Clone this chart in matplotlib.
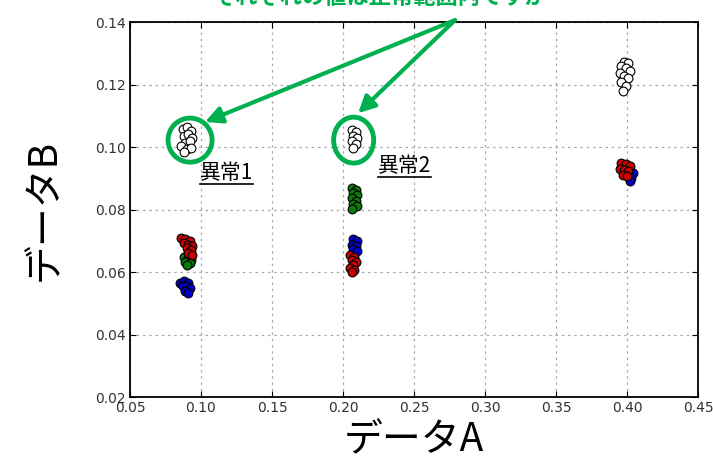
import matplotlib
matplotlib.use("Agg")
import matplotlib.pyplot as plt
from matplotlib.patches import Ellipse
from matplotlib.lines import Line2D

plt.rcParams["font.family"] = ["DejaVu Sans"]
JP = ["Noto Sans CJK JP", "DejaVu Sans"]
GREEN = "#00b050"

# cluster near A=0.09
w1_x = [0.087, 0.090, 0.093, 0.088, 0.091, 0.094, 0.089, 0.092, 0.086, 0.090, 0.093, 0.088]
w1_y = [0.1058, 0.1064, 0.1052, 0.1036, 0.1042, 0.1028, 0.1012, 0.1018, 0.1002, 0.0994, 0.0998, 0.0984]
r1_x = [0.086, 0.089, 0.092, 0.088, 0.091, 0.094, 0.090, 0.093, 0.091, 0.094]
r1_y = [0.0708, 0.0706, 0.0700, 0.0692, 0.0688, 0.0684, 0.0676, 0.0670, 0.0662, 0.0656]
g1_x = [0.088, 0.091, 0.093, 0.089, 0.092, 0.090]
g1_y = [0.0648, 0.0644, 0.0640, 0.0632, 0.0628, 0.0622]
b1_x = [0.085, 0.088, 0.091, 0.087, 0.090, 0.092, 0.089, 0.091]
b1_y = [0.0566, 0.0570, 0.0566, 0.0556, 0.0554, 0.0548, 0.0540, 0.0534]

# cluster near A=0.21
w2_x = [0.206, 0.209, 0.207, 0.210, 0.206, 0.209, 0.207]
w2_y = [0.1054, 0.1048, 0.1036, 0.1030, 0.1018, 0.1010, 0.0996]
g2_x = [0.206, 0.209, 0.207, 0.210, 0.206, 0.209, 0.207, 0.210, 0.206]
g2_y = [0.0868, 0.0862, 0.0852, 0.0846, 0.0836, 0.0828, 0.0818, 0.0810, 0.0802]
b2_x = [0.207, 0.210, 0.206, 0.209, 0.207, 0.210]
b2_y = [0.0706, 0.0698, 0.0688, 0.0682, 0.0674, 0.0668]
r2_x = [0.205, 0.208, 0.206, 0.209, 0.207, 0.205, 0.208, 0.206]
r2_y = [0.0654, 0.0648, 0.0638, 0.0632, 0.0622, 0.0614, 0.0608, 0.0600]

# cluster near A=0.40
w3_x = [0.398, 0.401, 0.396, 0.399, 0.402, 0.395, 0.398, 0.401, 0.396, 0.399, 0.397]
w3_y = [0.1272, 0.1268, 0.1258, 0.1252, 0.1244, 0.1236, 0.1228, 0.1220, 0.1208, 0.1196, 0.1180]
g3_x = [0.397, 0.400, 0.398]
g3_y = [0.0930, 0.0922, 0.0914]
r3_x = [0.396, 0.399, 0.402, 0.395, 0.398, 0.401, 0.397, 0.400]
r3_y = [0.0950, 0.0946, 0.0940, 0.0930, 0.0926, 0.0922, 0.0912, 0.0906]
b3_x = [0.402, 0.404, 0.401, 0.403, 0.402]
b3_y = [0.0926, 0.0918, 0.0908, 0.0900, 0.0892]

series = [
    (g1_x, g1_y, "#0a7a0a"), (r1_x, r1_y, "#cc0000"), (b1_x, b1_y, "#0000cc"),
    (g2_x, g2_y, "#0a7a0a"), (b2_x, b2_y, "#0000cc"), (r2_x, r2_y, "#cc0000"),
    (g3_x, g3_y, "#0a7a0a"), (b3_x, b3_y, "#0000cc"), (r3_x, r3_y, "#cc0000"),
    (w1_x, w1_y, "white"), (w2_x, w2_y, "white"), (w3_x, w3_y, "white"),
]

fig = plt.figure(figsize=(7.13, 4.69), dpi=100)
ax = fig.add_axes([130 / 713, 1 - 397 / 469, 568 / 713, 375 / 469])

for xs, ys, c in series:
    ax.scatter(xs, ys, s=40, c=c, edgecolors="black", linewidths=0.8, zorder=3)

ax.set_xlim(0.05, 0.45)
ax.set_ylim(0.02, 0.14)
ax.set_xticks([0.05 + 0.05 * i for i in range(9)])
ax.set_yticks([0.02 + 0.02 * i for i in range(7)])
ax.xaxis.set_major_formatter(plt.FormatStrFormatter("%.2f"))
ax.yaxis.set_major_formatter(plt.FormatStrFormatter("%.2f"))
ax.tick_params(direction="in", top=True, right=True, length=4, labelsize=10,
               labelcolor="#333333", pad=3)
ax.grid(True, color="#aaaaaa", linestyle=(0, (2, 3)), linewidth=0.9)
for sp in ax.spines.values():
    sp.set_linewidth(1.3)

ax.set_xlabel("データA", family=JP, fontsize=28, labelpad=4)
ax.set_ylabel("データB", family=JP, fontsize=28, labelpad=22)

# anomaly markers
ax.add_patch(Ellipse((0.0923, 0.1022), 0.031, 0.0141, fill=False,
                     edgecolor=GREEN, linewidth=3.5, zorder=4))
ax.add_patch(Ellipse((0.2075, 0.1022), 0.0282, 0.0147, fill=False,
                     edgecolor=GREEN, linewidth=3.5, zorder=4))

src = (0.2789, 0.1406)
for tip in [(0.1028, 0.1080), (0.2106, 0.1108)]:
    ax.annotate("", xy=tip, xytext=src, annotation_clip=False,
                arrowprops=dict(arrowstyle="-|>,head_length=1.0,head_width=0.5",
                                color=GREEN, lw=3, shrinkA=0, shrinkB=0), zorder=5)

labels = [
    ax.text(0.0993, 0.0917, "異常1", family=JP, fontsize=15, ha="left", va="center"),
    ax.text(0.2246, 0.0938, "異常2", family=JP, fontsize=15, ha="left", va="center"),
]

fig.text(380 / 713, 1 - 4 / 469, "それぞれの値は正常範囲内ですが",
         family=JP, fontsize=16, color=GREEN, fontweight="bold",
         ha="center", va="baseline")

# underline the anomaly labels
fig.canvas.draw()
inv = fig.transFigure.inverted()
for t in labels:
    bb = t.get_window_extent()
    (x0, y0), (x1, _) = inv.transform([(bb.x0, bb.y0), (bb.x1, bb.y1)])
    fig.add_artist(Line2D([x0, x1], [y0, y0], color="black", lw=1.2))

fig.savefig("out.png", dpi=100)
